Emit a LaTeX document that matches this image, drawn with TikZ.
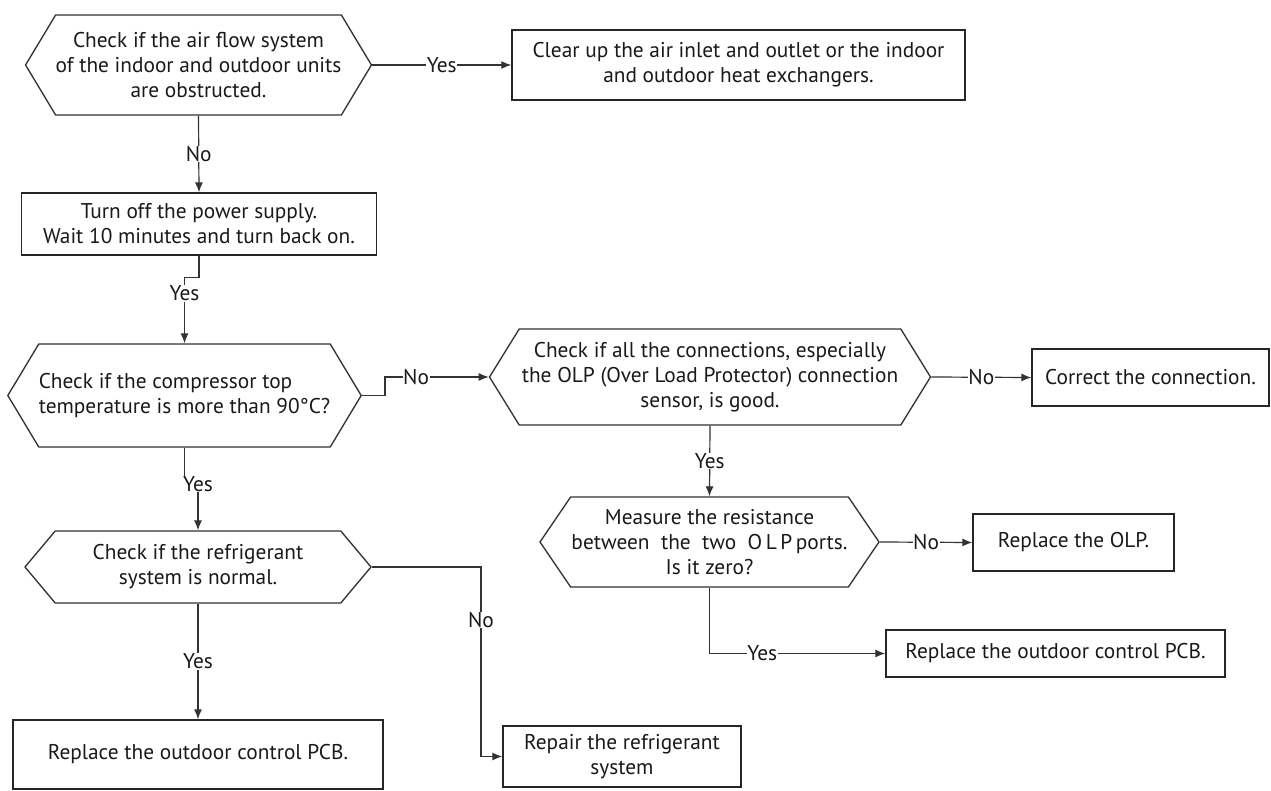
\documentclass[tikz,border=0pt]{standalone}
\usepackage{tikz}
\usepackage{fontspec}
\setmainfont{PT Sans}
\usetikzlibrary{shapes.symbols,arrows.meta}

\begin{document}
\begin{tikzpicture}[x=0.75pt,y=0.75pt,yscale=-1,xscale=1,
	every node/.style={font=\fontsize{16}{18.75}\selectfont,text=black!90},
	hexa/.style={signal,signal to=east and west,draw=black!80,line width=1pt,inner sep=0pt,align=center},
	boxa/.style={draw=black!85,line width=1pt,inner sep=0pt,align=center},
	arr/.style={draw=black!80,line width=0.9pt,-{Latex[length=7.5pt,width=6pt]}},
	lbl/.style={fill=white,inner sep=0.5pt}]

	\useasboundingbox (0,0) rectangle (1271,791);

	% decisions
	\node[hexa,minimum width=255.75pt,minimum height=75pt,signal pointer angle=118] (air) at (198.5,65) {Check if the air flow system\\of the indoor and outdoor units\\are obstructed.};
	\node[hexa,minimum width=258.75pt,minimum height=77.25pt,signal pointer angle=118,align=left] (comp) at (184.5,395.5) {Check if the compressor top\\temperature is more than 90°C?};
	\node[hexa,minimum width=330.75pt,minimum height=72pt,signal pointer angle=116.5] (conn) at (710,377) {Check if all the connections, especially\\the OLP (Over Load Protector) connection\\sensor, is good.};
	\node[hexa,minimum width=254.25pt,minimum height=67.5pt,signal pointer angle=111.5] (ohm) at (709.5,542) {Measure the resistance\\between~ the~ two~ O\,L\,P\,ports.\\Is it zero?};
	\node[hexa,minimum width=259.5pt,minimum height=54pt,signal pointer angle=100] (refr) at (198,567) {Check if the refrigerant\\system is normal.};

	% actions
	\node[boxa,minimum width=339.75pt,minimum height=52.5pt] (clear) at (738.5,65) {Clear up the air inlet and outlet or the indoor\\and outdoor heat exchangers.};
	\node[boxa,minimum width=266.25pt,minimum height=46.5pt] (power) at (199,224) {Turn off the power supply.\\Wait 10 minutes and turn back on.};
	\node[boxa,minimum width=177.75pt,minimum height=42.75pt] (fix) at (1150.5,377.5) {Correct the connection.};
	\node[boxa,minimum width=150.75pt,minimum height=42.75pt] (olp) at (1073.5,542.5) {Replace the OLP.};
	\node[boxa,minimum width=254.25pt,minimum height=35.25pt] (pcbb) at (1055.5,653.5) {Replace the outdoor control PCB.};
	\node[boxa,minimum width=277.5pt,minimum height=51.75pt] (pcba) at (198,754.5) {Replace the outdoor control PCB.};
	\node[boxa,minimum width=178.5pt,minimum height=45.75pt] (repair) at (622,756.5) {Repair the refrigerant\\system};
	\coordinate (bend) at (481,756.5);

	% connectors
	\draw[arr] (air.east) -- node[lbl] {Yes} (clear.west);
	\draw[arr] (air.south) -- node[lbl] {No} (power.north);
	\draw[arr] (power.south) -- ++(0,22) -| node[lbl,pos=0.62] {Yes} (comp.north);
	\draw[arr] (comp.east) -- ++(23,0) |- node[lbl,pos=0.65] {No} (conn.west);
	\draw[arr] (conn.east) -- node[lbl] {No} (fix.west);
	\draw[arr] (conn.south) -- node[lbl] {Yes} (ohm.north);
	\draw[arr] (ohm.east) -- node[lbl] {No} (olp.west);
	\draw[arr] (ohm.south) |- node[lbl,pos=0.65] {Yes} (pcbb.west);
	\draw[arr] (comp.south) -- ++(0,31) -| node[lbl,pos=0.55] {Yes} (refr.north);
	\draw[arr] (refr.east) -| node[lbl,pos=0.64] {No} (bend) -- (repair.west);
	\draw[arr] (refr.south) -- node[lbl] {Yes} (pcba.north);

\end{tikzpicture}
\end{document}
